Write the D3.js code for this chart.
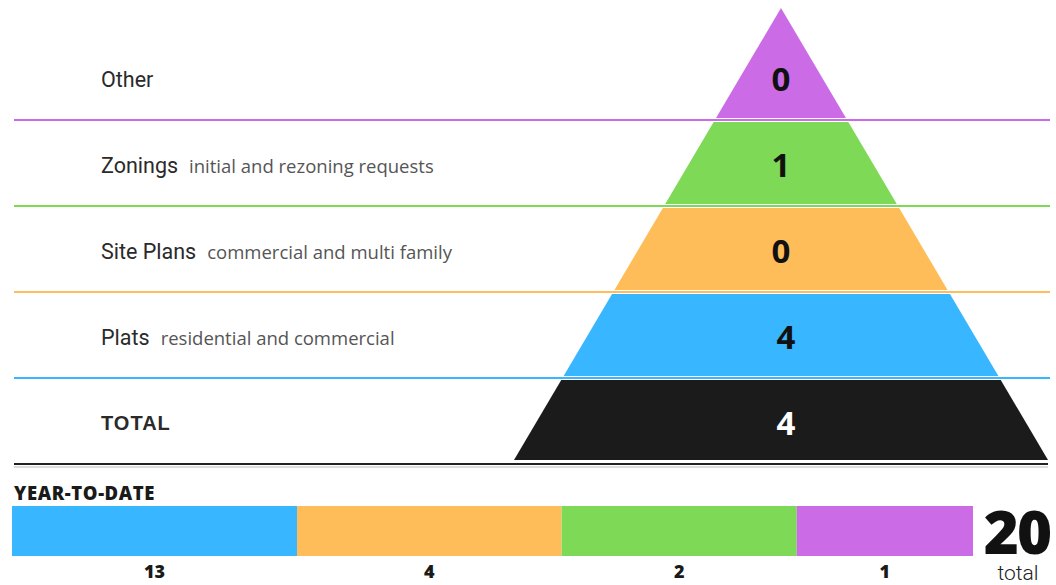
<!DOCTYPE html>
<html><head><meta charset="utf-8">
<script src="https://cdn.jsdelivr.net/npm/d3@7/dist/d3.min.js"></script>
<style>html,body{margin:0;padding:0;background:#fff;}svg{display:block;}</style>
</head><body>
<svg id="c" width="1056" height="585"></svg>
<script>
// ---- data ----
const categories = ["Other", "Zonings", "Site Plans", "Plats", "TOTAL"];
const subtitles = ["", "initial and rezoning requests", "commercial and multi family", "residential and commercial", ""];
const monthValues = [0, 1, 0, 4, 4];
const bandColors = ["#CB6CE6", "#7ED957", "#FFBD59", "#38B6FF", "#1B1B1B"];

const ytdCategories = ["Plats", "Site Plans", "Zonings", "Other"];
const ytdValues = [13, 4, 2, 1];
const ytdColors = ["#38B6FF", "#FFBD59", "#7ED957", "#CB6CE6"];
const ytdTitle = "YEAR-TO-DATE";
const ytdTotal = 20;

// ---- layout ----
const svg = d3.select("#c");
const apexX = 781, apexY = 8, baseY = 460;
const y = d3.scaleBand().domain(categories).range([34, 464]);
const halfW = d3.scaleLinear().domain([apexY, baseY]).range([0, 267]);
const gap = 2;

// separator lines
categories.slice(0, 4).forEach((c, i) => {
  svg.append("line")
    .attr("x1", 14).attr("x2", 1050)
    .attr("y1", y(c) + y.bandwidth()).attr("y2", y(c) + y.bandwidth())
    .attr("stroke", bandColors[i]).attr("stroke-width", 2);
});
svg.append("line").attr("x1", 14).attr("x2", 1048).attr("y1", 464).attr("y2", 464)
  .attr("stroke", "#222").attr("stroke-width", 2);
svg.append("line").attr("x1", 14).attr("x2", 1048).attr("y1", 467).attr("y2", 467)
  .attr("stroke", "#bbb").attr("stroke-width", 1);

// pyramid bands
categories.forEach((c, i) => {
  const top = i === 0 ? apexY : y(c) + gap;
  const bot = i === categories.length - 1 ? baseY : y(c) + y.bandwidth() - gap;
  const pts = [
    [apexX - halfW(top), top], [apexX + halfW(top), top],
    [apexX + halfW(bot), bot], [apexX - halfW(bot), bot]
  ];
  svg.append("path").attr("d", d3.line()(pts) + "Z").attr("fill", bandColors[i]);
  svg.append("text")
    .attr("x", apexX + (i >= 3 ? 5 : 0)).attr("y", y(c) + y.bandwidth() / 2 + 1)
    .attr("text-anchor", "middle").attr("dominant-baseline", "central")
    .attr("font-family", "'Open Sans', sans-serif").attr("font-weight", 700)
    .attr("font-size", 33)
    .attr("fill", i === categories.length - 1 ? "#fff" : "#111")
    .text(monthValues[i]);
});

// row labels
categories.forEach((c, i) => {
  const isTotal = c === "TOTAL";
  const t = svg.append("text")
    .attr("x", 101).attr("y", y(c) + y.bandwidth() / 2 + 2)
    .attr("dominant-baseline", "central")
    .attr("font-family", isTotal ? "'Liberation Sans', Arial, sans-serif" : "Roboto, sans-serif")
    .attr("font-weight", isTotal ? 700 : 400)
    .attr("font-size", isTotal ? 20 : 21.5)
    .attr("letter-spacing", isTotal ? 1 : 0)
    .attr("fill", "#2a2a2a")
    .text(c);
  if (subtitles[i]) {
    t.append("tspan").attr("dx", 11)
      .attr("font-family", "'Open Sans', sans-serif").attr("font-size", 18.5)
      .attr("font-weight", 400).attr("fill", "#555")
      .text(subtitles[i]);
  }
});

// ---- year-to-date bar ----
svg.append("text").attr("x", 14).attr("y", 500)
  .attr("font-family", "'Open Sans', sans-serif").attr("font-weight", 800)
  .attr("font-size", 18.5).attr("letter-spacing", 0.6).attr("fill", "#1a1a1a").text(ytdTitle);

// segment weights: display scale (reciprocal-based, as in the original design)
const weightScale = d3.scaleLinear().domain([0, 1]).range([292, 175]);
const weights = ytdValues.map(v => weightScale(1 / v));
const cum = d3.cumsum(weights);
const xBar = d3.scaleLinear().domain([0, d3.sum(weights)]).range([12, 973]);
ytdValues.forEach((v, i) => {
  const x0 = xBar(i === 0 ? 0 : cum[i - 1]), x1 = xBar(cum[i]);
  svg.append("rect").attr("x", x0).attr("y", 506).attr("width", x1 - x0).attr("height", 50)
    .attr("fill", ytdColors[i]);
  svg.append("text").attr("x", (x0 + x1) / 2).attr("y", 578)
    .attr("text-anchor", "middle")
    .attr("font-family", "'Open Sans', sans-serif").attr("font-weight", 800)
    .attr("font-size", 18).attr("fill", "#1a1a1a").text(v);
});

svg.append("text").attr("x", 1017).attr("y", 554).attr("text-anchor", "middle")
  .attr("font-family", "'Open Sans', sans-serif").attr("font-weight", 800)
  .attr("font-size", 60).attr("letter-spacing", -2).attr("fill", "#111").text(ytdTotal);
svg.append("text").attr("x", 1018).attr("y", 580).attr("text-anchor", "middle")
  .attr("font-family", "Roboto, sans-serif").attr("font-weight", 300)
  .attr("font-size", 21).attr("fill", "#222").text("total");
</script>
</body></html>
